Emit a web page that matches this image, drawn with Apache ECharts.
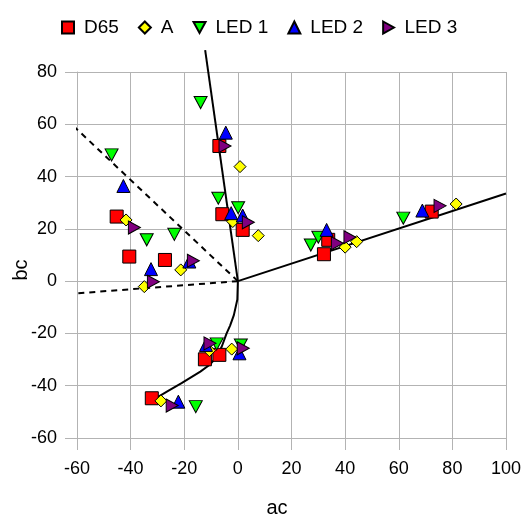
<!DOCTYPE html>
<html>
<head>
<meta charset="utf-8">
<script src="https://cdn.jsdelivr.net/npm/echarts@6/dist/echarts.min.js"></script>
<style>
  html, body { margin: 0; padding: 0; background: #fff; }
  #chart { width: 526px; height: 518px; }
</style>
</head>
<body>
<div id="chart"></div>
<script>
// measured points [ac, bc]
const d65 = [[-45.2, 24.7], [-40.5, 9.4], [-27.2, 8.1], [-6.9, 51.7], [-5.8, 25.6], [1.8, 19.6],
  [32.1, 10.3], [33.7, 15.8], [72.3, 26.6], [-12.3, -29.9], [-6.9, -28.2], [-32.1, -44.8]];
const illA = [[-41.7, 23.4], [-34.9, -2.1], [-21.3, 4.3], [0.8, 43.8], [-1.9, 22.8], [7.6, 17.4],
  [40.0, 13.0], [44.3, 15.1], [81.4, 29.5], [-10.6, -26.6], [-2.3, -26.0], [-28.7, -45.8]];
const led1 = [[-47.1, 48.3], [-34.0, 15.8], [-23.7, 17.9], [-13.9, 68.3], [-7.3, 31.7], [0.1, 28.1],
  [27.2, 13.8], [30.0, 16.8], [61.7, 24.1], [-7.9, -24.0], [1.1, -24.4], [-15.7, -48.0]];
const led2 = [[-42.7, 36.4], [-32.4, 4.6], [-18.1, 7.5], [-4.5, 56.8], [-2.5, 26.0], [1.8, 25.1],
  [33.1, 19.6], [68.8, 27.0], [-11.9, -24.4], [0.6, -27.6], [-22.2, -46.1]];
const led3 = [[-38.6, 20.5], [-31.5, -0.2], [-16.6, 7.8], [-4.8, 51.7], [3.9, 22.5], [37.1, 14.5],
  [41.8, 16.8], [75.4, 28.8], [-10.4, -23.8], [2.0, -25.7], [-24.5, -47.6]];

// reference lines
const lineUp = [[0, 0], [-12.2, 88.4]];
const lineRight = [[0, 0], [100, 33.5]];
const lineDown = [[0, 0], [-0.2, -7], [-1.5, -13], [-2.9, -17], [-4.2, -20], [-6, -25], [-7.9, -29],
  [-10.5, -32], [-14, -34.6], [-21, -39], [-26, -42], [-31, -45], [-33, -46]];
const dashUp = [[0, 0], [-62, 60]];
const dashLeft = [[0, 0], [-68.2, -5.3]];

const grey = "#b3b3b3";
const font = "Liberation Sans, Arial, sans-serif";
const downTri = "path://M0,0 L10,0 L5,9 Z";
const rightTri = "path://M0,0 L9,5 L0,10 Z";

function markers(name, data, symbol, color, size) {
  return {
    name: name,
    type: "scatter",
    data: data,
    symbol: symbol,
    symbolSize: size,
    itemStyle: { color: color, borderColor: "#000", borderWidth: 1, opacity: 1 },
    z: 3,
  };
}
function refLine(data, dashed) {
  return {
    type: "line",
    data: data,
    showSymbol: false,
    smooth: false,
    clip: false,
    silent: true,
    lineStyle: { color: "#000", width: 2, type: dashed ? [6, 5] : "solid" },
    z: 2,
  };
}

const chart = echarts.init(document.getElementById("chart"));
chart.setOption({
  animation: false,
  textStyle: { fontFamily: font },
  legend: {
    data: [
      { name: "D65", icon: "rect" },
      { name: "A", icon: "diamond" },
      { name: "LED 1", icon: downTri },
      { name: "LED 2", icon: "triangle" },
      { name: "LED 3", icon: rightTri },
    ],
    left: 56,
    top: 13,
    itemWidth: 12,
    itemHeight: 12,
    itemGap: 19,
    textStyle: { fontSize: 19, color: "#000", fontFamily: font, padding: [0, 0, 0, 5] },
  },
  grid: { left: 77, right: 20, top: 72, bottom: 80, containLabel: false, outerBoundsMode: "none" },
  xAxis: {
    type: "value",
    min: -60,
    max: 100,
    interval: 20,
    name: "ac",
    nameLocation: "middle",
    nameGap: 60,
    nameMoveOverlap: false,
    nameTextStyle: { fontSize: 20, color: "#000", padding: [0, 29, 0, 0] },
    axisLine: { show: true, onZero: false, lineStyle: { color: grey } },
    axisTick: { show: true, length: 12, lineStyle: { color: grey } },
    axisLabel: { fontSize: 18, color: "#000", margin: 22 },
    splitLine: { show: true, lineStyle: { color: grey, width: 1 } },
  },
  yAxis: {
    type: "value",
    min: -60,
    max: 80,
    interval: 20,
    name: "bc",
    nameLocation: "middle",
    nameGap: 46,
    nameRotate: 90,
    nameMoveOverlap: false,
    nameTextStyle: { fontSize: 20, color: "#000", padding: [0, 30, 0, 0] },
    axisLine: { show: true, onZero: false, lineStyle: { color: grey } },
    axisTick: { show: true, length: 12, lineStyle: { color: grey } },
    axisLabel: { fontSize: 18, color: "#000", margin: 20 },
    splitLine: { show: true, lineStyle: { color: grey, width: 1 } },
  },
  series: [
    refLine(lineUp, false),
    refLine(lineRight, false),
    refLine(lineDown, false),
    refLine(dashUp, true),
    refLine(dashLeft, true),
    markers("D65", d65, "rect", "#ff0000", 13),
    markers("A", illA, "diamond", "#ffff00", 12),
    markers("LED 1", led1, downTri, "#00ff00", [13, 12]),
    markers("LED 2", led2, "triangle", "#0000ff", 13),
    markers("LED 3", led3, rightTri, "#800080", [12, 13]),
  ],
});
</script>
</body>
</html>
